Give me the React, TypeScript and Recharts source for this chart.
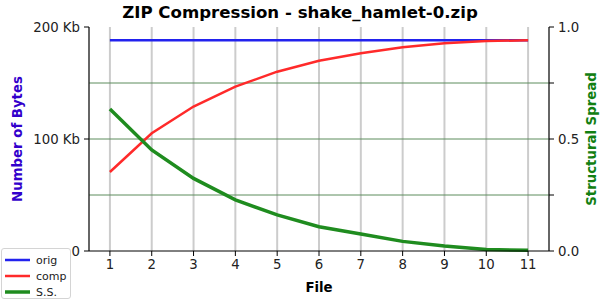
import React from 'react';
import { LineChart, Line, XAxis, YAxis, CartesianGrid, Legend } from 'recharts';

const files = [1, 2, 3, 4, 5, 6, 7, 8, 9, 10, 11];
const origKb = [188.1, 188.1, 188.1, 188.1, 188.1, 188.1, 188.1, 188.1, 188.1, 188.1, 188.1];
const compKb = [70.5, 105.1, 129.0, 146.7, 160.1, 169.9, 176.5, 181.9, 185.4, 187.5, 188.1];
const spread = [0.634, 0.451, 0.324, 0.228, 0.161, 0.108, 0.076, 0.043, 0.022, 0.007, 0.003];

const xTicks = files;
const leftTicks = [0, 100, 200];
const rightTicks = [0, 0.25, 0.5, 0.75, 1.0];
const rightGrid = [0.25, 0.5, 0.75];

const title = 'ZIP Compression - shake_hamlet-0.zip';

const data = files.map((f, i) => ({ file: f, orig: origKb[i], comp: compKb[i], ss: spread[i] }));

const FONT = '"DejaVu Sans", sans-serif';
const BLUE = '#2222ee';
const RED = '#ff2a2a';
const GREEN = '#1f8c1f';

const legendItems = [
  { label: 'orig', color: BLUE, w: 2.5 },
  { label: 'comp', color: RED, w: 2.5 },
  { label: 'S.S.', color: GREEN, w: 3.5 },
];

const LegendBox = () => (
  <div
    style={{
      width: 70,
      height: 51,
      border: '1px solid #d4d4d4',
      borderRadius: 3,
      background: 'rgba(255,255,255,0.85)',
      boxSizing: 'border-box',
      fontFamily: FONT,
      fontSize: 11,
      paddingTop: 3,
    }}
  >
    {legendItems.map((it) => (
      <div key={it.label} style={{ display: 'flex', alignItems: 'center', height: 16 }}>
        <svg width={34} height={16} style={{ display: 'block' }}>
          <line x1={3} x2={28} y1={8} y2={8} stroke={it.color} strokeWidth={it.w} />
        </svg>
        <span style={{ color: '#222' }}>{it.label}</span>
      </div>
    ))}
  </div>
);

export default function App() {
  return (
    <div style={{ position: 'absolute', left: 0, top: 0, width: 600, height: 300, fontFamily: FONT, background: '#fff' }}>
      <div
        style={{
          position: 'absolute',
          left: 0,
          top: 3,
          width: 600,
          textAlign: 'center',
          fontWeight: 'bold',
          fontSize: 16.6,
          fontFamily: FONT,
          color: '#000',
          zIndex: 2,
        }}
      >
        {title}
      </div>
      <LineChart width={600} height={300} data={data} margin={{ top: 27, right: 0, bottom: 0, left: 0 }}>
        <CartesianGrid vertical horizontal={false} stroke="#cccccc" strokeWidth={2} xAxisId="x" yAxisId="left" />
        <CartesianGrid
          vertical={false}
          horizontal
          horizontalValues={rightGrid}
          stroke="#5c8c5c"
          strokeWidth={1}
          xAxisId="x"
          yAxisId="right"
        />
        <XAxis
          xAxisId="x"
          dataKey="file"
          type="number"
          domain={[0.5, 11.5]}
          ticks={xTicks}
          interval={0}
          height={49}
          stroke="#000"
          tickSize={5}
          tickMargin={4}
          tick={{ fill: '#222', fontSize: 13.3, fontFamily: FONT }}
          label={{ value: 'File', position: 'insideBottom', offset: 8, style: { fontWeight: 'bold', fontSize: 13.3, fill: '#000', fontFamily: FONT } }}
        />
        <YAxis
          yAxisId="left"
          orientation="left"
          domain={[0, 200]}
          ticks={leftTicks}
          width={89}
          stroke="#000"
          tickSize={5}
          tickMargin={4}
          tickFormatter={(v: number) => (v === 0 ? '0' : `${v} Kb`)}
          tick={{ fill: '#222', fontSize: 13.3, fontFamily: FONT }}
          label={{
            value: 'Number of Bytes',
            angle: -90,
            position: 'insideLeft',
            offset: 17,
            style: { textAnchor: 'middle', fontWeight: 'bold', fontSize: 13.3, fill: '#3300cc', fontFamily: FONT },
          }}
        />
        <YAxis
          yAxisId="right"
          orientation="right"
          domain={[0, 1]}
          ticks={rightTicks}
          width={51}
          stroke="#000"
          tickSize={5}
          tickMargin={4}
          tickFormatter={(v: number) => (v === 0.25 || v === 0.75 ? '' : v.toFixed(1))}
          tick={{ fill: '#222', fontSize: 13.3, fontFamily: FONT }}
          label={{
            value: 'Structural Spread',
            angle: -90,
            position: 'insideRight',
            offset: 9,
            style: { textAnchor: 'middle', fontWeight: 'bold', fontSize: 13.3, fill: '#128012', fontFamily: FONT },
          }}
        />
        <Line xAxisId="x" yAxisId="left" dataKey="orig" name="orig" stroke={BLUE} strokeWidth={2.5} dot={false} isAnimationActive={false} />
        <Line xAxisId="x" yAxisId="left" dataKey="comp" name="comp" stroke={RED} strokeWidth={2.5} dot={false} isAnimationActive={false} />
        <Line xAxisId="x" yAxisId="right" dataKey="ss" name="S.S." stroke={GREEN} strokeWidth={3.5} dot={false} isAnimationActive={false} />
        <Legend
          layout="vertical"
          align="center"
          verticalAlign="middle"
          content={() => <LegendBox />}
          wrapperStyle={{ left: 1, top: 248, width: 70, height: 51 }}
        />
      </LineChart>
    </div>
  );
}
